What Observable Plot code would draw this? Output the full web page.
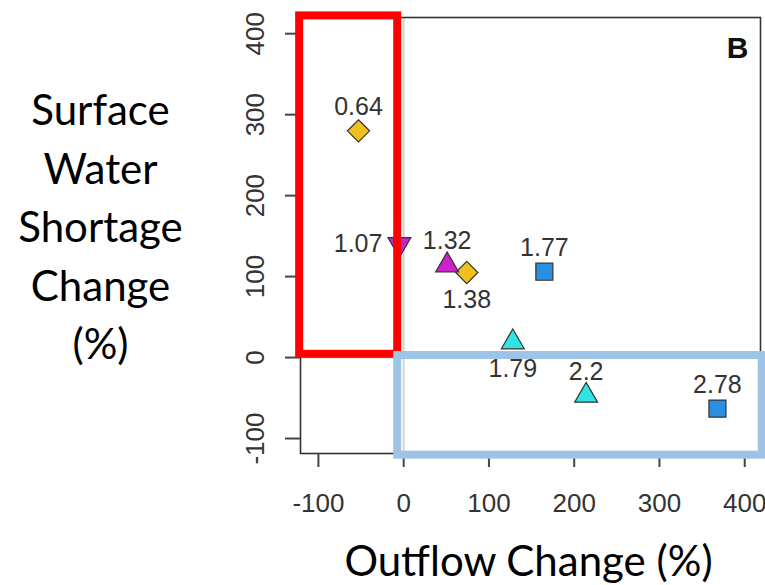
<!DOCTYPE html>
<html><head><meta charset="utf-8">
<script src="https://cdn.jsdelivr.net/npm/d3@7"></script>
<script src="https://cdn.jsdelivr.net/npm/@observablehq/plot@0.6"></script>
<style>body{margin:0;background:#fff}svg{display:block}</style>
</head><body><div id="chart"></div>
<script>
// ---- data ----
const labels = ["0.64","1.07","1.32","1.38","1.77","1.79","2.2","2.78"];
const outflowChange  = [-53, -5, 51, 74, 165, 128, 214, 368];
const shortageChange = [280, 140, 114, 105, 106, 19, -47, -63];
const shapes = ["diamond","triangle-down","triangle","diamond","square","triangle","triangle","square"];
const fills  = ["#f0c020","#cc22cc","#cc22cc","#f0c020","#2a8fe0","#30e4e4","#30e4e4","#2a8fe0"];
const labelPos = ["top","left","top","bottom","top","bottom","top","top"];
const xTicks = [-100, 0, 100, 200, 300, 400];
const yTicks = [-100, 0, 100, 200, 300, 400];
const xDomain = [-121, 418.5];
const yDomain = [-118.5, 420];
// highlight boxes (data coordinates)
const boxX1 = [-122, -7];
const boxX2 = [-7, 420.5];
const boxY1 = [4, -120.6];
const boxY2 = [422, 2.5];
const boxColors = ["#ff0000", "#9dc3e6"];
const panelLetter = ["B"];
const yTitle = ["Surface\nWater\nShortage\nChange\n(%)"];
const xTitle = ["Outflow Change (%)"];

const points = labels.map((label, i) => ({
  label, x: outflowChange[i], y: shortageChange[i],
  shape: shapes[i], fill: fills[i], pos: labelPos[i]
}));
const boxes = boxX1.map((x1, i) => ({x1, x2: boxX2[i], y1: boxY1[i], y2: boxY2[i], color: boxColors[i]}));

const labelFont = "Liberation Sans, Arial, Helvetica, sans-serif";
const titleFont = "Lato, 'Open Sans', sans-serif";
const dotStyle = {stroke: "#333", strokeWidth: 1.2};

const chart = Plot.plot({
  width: 765, height: 585,
  marginLeft: 300, marginRight: 5, marginTop: 17, marginBottom: 132,
  x: {domain: xDomain, axis: null},
  y: {domain: yDomain, axis: null},
  color: {type: "identity"},
  style: {background: "#fff", fontFamily: labelFont, overflow: "visible"},
  marks: [
    Plot.ruleX([0], {stroke: "#d4d4d4", strokeWidth: 2}),
    Plot.ruleY([0], {stroke: "#d4d4d4", strokeWidth: 2}),
    Plot.frame({stroke: "#333", strokeWidth: 1.6}),
    Plot.axisX({ticks: xTicks, tickSize: 14, tickFormat: () => "", stroke: "#444", strokeWidth: 2, label: null}),
    Plot.axisY({ticks: yTicks, tickSize: 15, tickFormat: () => "", stroke: "#444", strokeWidth: 2, label: null}),
    Plot.text(xTicks, {x: d => d, frameAnchor: "bottom", dy: 50, text: d => String(d), textAnchor: "middle", lineAnchor: "middle", fontSize: 26, fill: "#333"}),
    Plot.text(yTicks, {y: d => d, frameAnchor: "left", dx: -45, rotate: -90, text: d => String(d), textAnchor: "middle", lineAnchor: "middle", fontSize: 26, fill: "#333"}),
    Plot.dot(points.filter(d => d.shape === "diamond"), {x: "x", y: "y", fill: "fill", symbol: "diamond2", r: 10, ...dotStyle}),
    Plot.dot(points.filter(d => d.shape === "square"), {x: "x", y: "y", fill: "fill", symbol: "square", r: 9.6, ...dotStyle}),
    Plot.dot(points.filter(d => d.shape === "triangle"), {x: "x", y: "y", fill: "fill", symbol: "triangle", r: 8.5, ...dotStyle}),
    Plot.dot(points.filter(d => d.shape === "triangle-down"), {x: "x", y: "y", fill: "fill", symbol: "triangle", rotate: 180, r: 8.5, ...dotStyle}),
    Plot.text(points.filter(d => d.pos === "top"), {x: "x", y: "y", text: "label", dy: -24, fontSize: 25, fill: "#333"}),
    Plot.text(points.filter(d => d.pos === "bottom"), {x: "x", y: "y", text: "label", dy: 27, fontSize: 25, fill: "#333"}),
    Plot.text(points.filter(d => d.pos === "left"), {x: "x", y: "y", text: "label", dx: -17, textAnchor: "end", fontSize: 25, fill: "#333"}),
    Plot.rect(boxes, {x1: "x1", x2: "x2", y1: "y1", y2: "y2", stroke: "color", fill: "none", strokeWidth: 8}),
    Plot.text(panelLetter, {frameAnchor: "top-right", dx: -23, dy: 31, text: d => d, textAnchor: "middle", lineAnchor: "middle", fontSize: 30, fontWeight: "bold", fill: "#111"}),
    Plot.text(yTitle, {frameAnchor: "top-left", dx: -200, dy: 66, text: d => d, lineAnchor: "top", lineHeight: 1.393, textAnchor: "middle", fontSize: 42, fontFamily: titleFont, fill: "#000"}),
    Plot.text(xTitle, {frameAnchor: "bottom", dx: -2, dy: 122, text: d => d, lineAnchor: "bottom", textAnchor: "middle", fontSize: 42, fontFamily: titleFont, fill: "#000"})
  ]
});
document.getElementById("chart").appendChild(chart);
</script>
</body></html>
